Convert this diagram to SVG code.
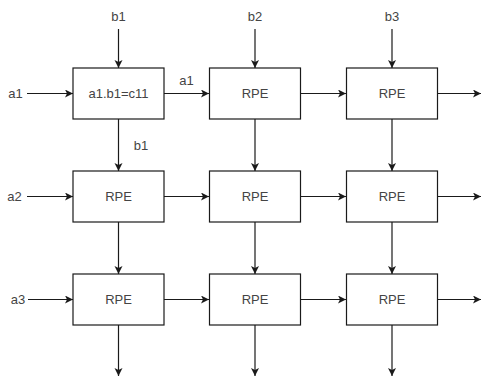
<svg xmlns="http://www.w3.org/2000/svg" width="482" height="378" viewBox="0 0 482 378">
<defs>
<marker id="arr" markerWidth="10" markerHeight="10" refX="8" refY="4" orient="auto" markerUnits="userSpaceOnUse">
<path d="M0,0 L8,4 L0,8 L2,4 Z" fill="#1a1a1a"/>
</marker>
<style>
.box{fill:#fff;stroke:#1a1a1a;stroke-width:1.2}
.t{font-family:"Liberation Sans",Arial,sans-serif;font-size:13px;fill:#444;text-anchor:middle}
.c line{stroke:#1a1a1a;stroke-width:1.2;marker-end:url(#arr)}
</style>
</defs>
<rect width="482" height="378" fill="#fff"/>
<g class="c" id="connectors">
<line x1="118.5" y1="29" x2="118.5" y2="68"/>
<line x1="255" y1="29" x2="255" y2="68"/>
<line x1="392" y1="29" x2="392" y2="68"/>
<line x1="27" y1="93.5" x2="73" y2="93.5"/>
<line x1="27" y1="196.5" x2="73" y2="196.5"/>
<line x1="28" y1="299.5" x2="73" y2="299.5"/>
<line x1="164" y1="93.5" x2="209" y2="93.5"/>
<line x1="301" y1="93.5" x2="346" y2="93.5"/>
<line x1="438" y1="93.5" x2="481" y2="93.5"/>
<line x1="164" y1="196.5" x2="209" y2="196.5"/>
<line x1="301" y1="196.5" x2="346" y2="196.5"/>
<line x1="438" y1="196.5" x2="481" y2="196.5"/>
<line x1="164" y1="299.5" x2="209" y2="299.5"/>
<line x1="301" y1="299.5" x2="346" y2="299.5"/>
<line x1="438" y1="299.5" x2="481" y2="299.5"/>
<line x1="118.5" y1="119" x2="118.5" y2="171"/>
<line x1="255" y1="119" x2="255" y2="171"/>
<line x1="392" y1="119" x2="392" y2="171"/>
<line x1="118.5" y1="222" x2="118.5" y2="274"/>
<line x1="255" y1="222" x2="255" y2="274"/>
<line x1="392" y1="222" x2="392" y2="274"/>
<line x1="118.5" y1="325" x2="118.5" y2="376"/>
<line x1="255" y1="325" x2="255" y2="376"/>
<line x1="392" y1="325" x2="392" y2="376"/>
</g>
<g id="labels">
<text class="t" x="118.5" y="20.5">b1</text>
<text class="t" x="255" y="20.5">b2</text>
<text class="t" x="392" y="20.5">b3</text>
<text class="t" x="15.5" y="98">a1</text>
<text class="t" x="14.5" y="201">a2</text>
<text class="t" x="18" y="304">a3</text>
<text class="t" x="186.5" y="85">a1</text>
<text class="t" x="141" y="150">b1</text>
</g>
<g id="pe11"><rect class="box" x="73" y="68" width="91" height="51"/><text class="t" x="118.5" y="98">a1.b1=c11</text></g>
<g id="pe12"><rect class="box" x="209.5" y="68" width="91" height="51"/><text class="t" x="255" y="98">RPE</text></g>
<g id="pe13"><rect class="box" x="346.5" y="68" width="91" height="51"/><text class="t" x="392" y="98">RPE</text></g>
<g id="pe21"><rect class="box" x="73" y="171" width="91" height="51"/><text class="t" x="118.5" y="201">RPE</text></g>
<g id="pe22"><rect class="box" x="209.5" y="171" width="91" height="51"/><text class="t" x="255" y="201">RPE</text></g>
<g id="pe23"><rect class="box" x="346.5" y="171" width="91" height="51"/><text class="t" x="392" y="201">RPE</text></g>
<g id="pe31"><rect class="box" x="73" y="274" width="91" height="51"/><text class="t" x="118.5" y="304">RPE</text></g>
<g id="pe32"><rect class="box" x="209.5" y="274" width="91" height="51"/><text class="t" x="255" y="304">RPE</text></g>
<g id="pe33"><rect class="box" x="346.5" y="274" width="91" height="51"/><text class="t" x="392" y="304">RPE</text></g>
</svg>
